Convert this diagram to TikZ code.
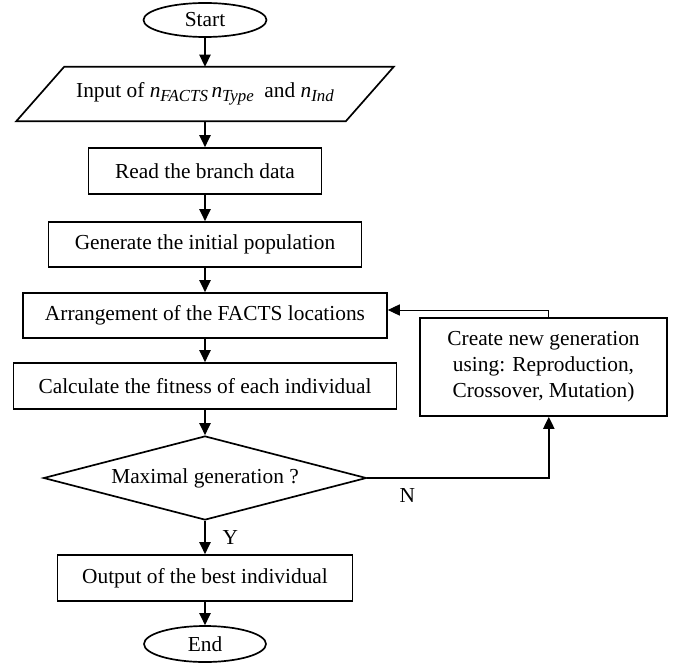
\documentclass[tikz,border=0pt]{standalone}
\usepackage{fontspec}
\setmainfont{Liberation Serif}
\usetikzlibrary{arrows.meta, shapes.geometric, calc}

\newcommand{\subit}[1]{\raisebox{-0.35ex}{\fontsize{12}{12}\selectfont\textit{#1}}}

\begin{document}
\begin{tikzpicture}[>={Triangle[length=3mm, width=2.8mm]},
  every node/.style={font=\fontsize{15.2}{18.5}\selectfont},
  terminal/.style={draw, ellipse, line width=1.2pt, inner sep=0pt},
  procbox/.style={draw, rectangle, line width=1.2pt, inner sep=0pt},
  decision/.style={draw, diamond, line width=1.2pt, inner sep=0pt},
  flow/.style={->, line width=1.2pt}]

\useasboundingbox (0,0) rectangle (17.275,16.7);

% --- Main column ---
\node[terminal, minimum width=3.075cm, minimum height=0.85cm] (start) at (5.125,16.2) {Start};

% Input (parallelogram drawn round an invisible node)
\node[minimum width=8.225cm, minimum height=1.35cm, inner sep=0pt] (input) at (5.125,14.35)
  {Input of \textit{n}\subit{FACTS}\,\textit{n}\subit{Type}~ and \textit{n}\subit{Ind}};
\draw[line width=1.2pt] ([xshift=0.6cm]input.north west) -- ([xshift=0.6cm]input.north east)
  -- ([xshift=-0.6cm]input.south east) -- ([xshift=-0.6cm]input.south west) -- cycle;

\node[procbox, minimum width=5.825cm, minimum height=1.15cm] (read) at (5.125,12.425) {Read the branch data};
\node[procbox, minimum width=7.825cm, minimum height=1.125cm] (gen) at (5.125,10.5875) {Generate the initial population};
\node[procbox, minimum width=9.1cm, minimum height=1.125cm] (arr) at (5.125,8.8125) {Arrangement of the FACTS locations};
\node[procbox, minimum width=9.575cm, minimum height=1.15cm] (calc) at (5.125,7.05) {Calculate the fitness of each individual};
\node[decision, minimum width=8.075cm, minimum height=2.1cm, aspect=3.85] (dec) at (5.125,4.75) {Maximal generation ?};
\node[procbox, minimum width=7.375cm, minimum height=1.15cm] (out) at (5.125,2.25) {Output of the best individual};
\node[terminal, minimum width=3.05cm, minimum height=0.9cm] (stop) at (5.125,0.6) {End};

% --- Side box ---
\node[procbox, minimum width=6.175cm, minimum height=2.45cm, align=center] (create) at (13.5875,7.525)
  {Create new generation\\using: Reproduction,\\Crossover, Mutation)};

% Arrows down the column
\draw[flow] (start) -- (input);
\draw[flow] (input) -- (read);
\draw[flow] (read) -- (gen);
\draw[flow] (gen) -- (arr);
\draw[flow] (arr) -- (calc);
\draw[flow] (calc) -- (dec);
\draw[flow] (dec) -- node[right, xshift=0.3cm] {Y} (out);
\draw[flow] (out) -- (stop);

% Loop back
\coordinate (turn) at (13.72,4.75);
\coordinate (back) at (13.72,8.95);
\draw[flow] (dec.east) -- node[pos=0.22, below, yshift=-0.12cm] {N} (turn) -- (turn |- create.south);
\draw[->, line width=0.7pt] (create.north -| back) -- (back) -- (back -| arr.east);

\end{tikzpicture}
\end{document}
